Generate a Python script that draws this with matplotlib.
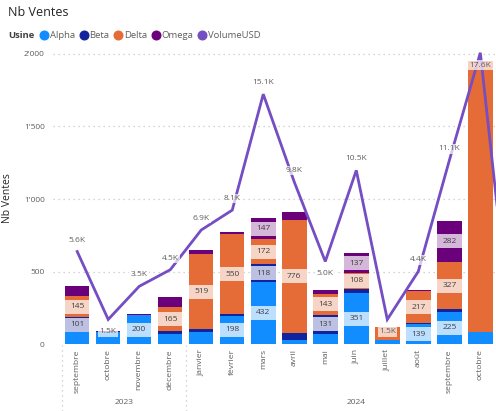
import matplotlib
matplotlib.use("Agg")
import matplotlib.pyplot as plt
from matplotlib.lines import Line2D
from matplotlib.ticker import FuncFormatter
from matplotlib.transforms import blended_transform_factory
import numpy as np

plt.rcParams['font.family'] = ['Open Sans', 'DejaVu Sans']

# ---------------- data ----------------
months = ["septembre", "octobre", "novembre", "décembre", "janvier", "février", "mars",
          "avril", "mai", "juin", "juillet", "août", "septembre", "octobre"]
years = ["2023", "2024"]
year_spans = [(0, 3), (4, 14)]          # month index ranges (2024 continues to novembre, off-screen)
alpha_v = [85, 84, 200, 74, 82, 198, 432, 33, 74, 351, 28, 139, 225, 85]
beta_v  = [101, 0, 0, 16, 20, 10, 118, 48, 131, 32, 4, 8, 16, 0]
delta_v = [145, 0, 0, 165, 519, 550, 172, 776, 143, 108, 88, 217, 327, 1865]
omega_v = [72, 8, 8, 71, 26, 18, 147, 55, 28, 137, 0, 8, 282, 0]
# VolumeUSD: last value = novembre 2024, only partly visible at the right edge
volume_usd = [5600, 1500, 3500, 4500, 6900, 8100, 15100, 9800, 5000, 10500, 1500, 4400, 11100, 17600, 500]

series_names = ["Alpha", "Beta", "Delta", "Omega"]
series_vals = [alpha_v, beta_v, delta_v, omega_v]
colors = {"Alpha": "#118DFF", "Beta": "#12239E", "Delta": "#E66C37",
          "Omega": "#6B007B", "VolumeUSD": "#744EC2"}

# ---------------- figure ----------------
W, H = 496, 411
fig = plt.figure(figsize=(W / 100, H / 100), dpi=100)
ax_left_px, ax_top_px, ax_bot_px = 53, 46, 344.3
ax = fig.add_axes([ax_left_px / W, (H - ax_bot_px) / H, 1 - ax_left_px / W, (ax_bot_px - ax_top_px) / H])

n = len(months)
x = np.arange(n)
px_per_cat = 31.01
xl = -(77.2 - ax_left_px) / px_per_cat
xr = xl + (W - ax_left_px) / px_per_cat
ymax = 2054.4
ax.set_xlim(xl, xr)
ax.set_ylim(0, ymax)

bw = 0.79
bottom = np.zeros(n)
ax_h_px = ax_bot_px - ax_top_px
units_per_px = ymax / ax_h_px
box_h = 14 * units_per_px

label_boxes = []
for name, vals in zip(series_names, series_vals):
    v = np.array(vals, dtype=float)
    ax.bar(x, v, bw, bottom=bottom, color=colors[name], linewidth=0, zorder=2)
    for i in range(n):
        if 100 <= v[i] < 1000:
            label_boxes.append((i, bottom[i] + v[i] / 2, int(v[i])))
    bottom += v

for i, yc, val in label_boxes:
    ax.bar(i, box_h, bw, bottom=yc - box_h / 2, color="white", alpha=0.72, linewidth=0, zorder=3)
    ax.text(i, yc, f"{val}", ha="center", va="center", fontsize=6.0, color="#404040", zorder=4)

# grid
for gy in [500, 1000, 1500, 2000]:
    ax.axhline(gy, color="#C8C6C4", lw=0.9, linestyle=(0, (1, 3)), zorder=1)

for s in ax.spines.values():
    s.set_visible(False)
ax.tick_params(axis="both", length=0)
ax.set_yticks([0, 500, 1000, 1500, 2000])
ax.yaxis.set_major_formatter(FuncFormatter(lambda v, p: f"{int(v):,}".replace(",", "'")))
ax.tick_params(axis="y", labelsize=6.0, labelcolor="#605E5C", pad=6)
ax.set_xticks(x)
ax.set_xticklabels(months, rotation=90, fontsize=6.1, color="#605E5C", va="top")
ax.tick_params(axis="x", pad=3.5)
ax.set_ylabel("Nb Ventes", fontsize=7.5, color="#252423", labelpad=8)
ax.yaxis.set_label_coords(-(ax_left_px - 13.5) / (W - ax_left_px), 0.49)

# secondary axis line
ax2 = ax.twinx()
ax2.set_ylim(0, ymax * 8.765)
ax2.set_xlim(xl, xr)
ax2.axis("off")
xv = np.arange(len(volume_usd))
ax2.plot(xv, volume_usd, color=colors["VolumeUSD"], lw=2.0, zorder=5, solid_joinstyle="miter")
vmax2 = ymax * 8.765
for i, v in enumerate(volume_usd):
    if i > n - 1:
        continue
    local_min = 0 < i < len(volume_usd) - 1 and v < volume_usd[i - 1] and v < volume_usd[i + 1]
    below = local_min or v > 0.95 * vmax2
    off = -9.0 if below else 8.3
    ax2.annotate(f"{v / 1000:.1f}K", (i, v), xytext=(0, off), textcoords="offset points",
                 ha="center", va="center", fontsize=6.0, color="#605E5C", zorder=6,
                 bbox=dict(boxstyle="square,pad=0.15", fc="white", ec="none", alpha=0.7))

# hierarchical x axis: year labels and separators
trans = blended_transform_factory(ax.transData, fig.transFigure)
for (a, b), yl in zip(year_spans, years):
    ax.text((a + b) / 2, (H - 402) / H, yl, transform=trans, ha="center", va="center",
            fontsize=6.0, color="#605E5C", clip_on=False)
for sep in [-0.5, 3.5]:
    fig.add_artist(Line2D([sep, sep], [0, (H - 345) / H], transform=trans, color="#C8C6C4",
                          lw=0.9, linestyle=(0, (1, 3))))

# title
fig.text(8 / W, 1 - 13 / H, "Nb Ventes", fontsize=9.0, color="#252423", ha="left", va="center")

# legend
renderer = fig.canvas.get_renderer()
ly = 1 - 35 / H
t = fig.text(8 / W, ly, "Usine", fontsize=6.8, fontweight="bold", color="#404040", ha="left", va="center")
xend = t.get_window_extent(renderer).x1
for name in series_names + ["VolumeUSD"]:
    cx = xend + 10
    fig.add_artist(Line2D([cx / W], [ly], marker="o", markersize=6.2, color=colors[name],
                          linestyle="none", transform=fig.transFigure))
    tt = fig.text((cx + 5.5) / W, ly, name, fontsize=6.8, color="#605E5C", ha="left", va="center")
    xend = tt.get_window_extent(renderer).x1 - 1

fig.savefig("out.png", dpi=100)
